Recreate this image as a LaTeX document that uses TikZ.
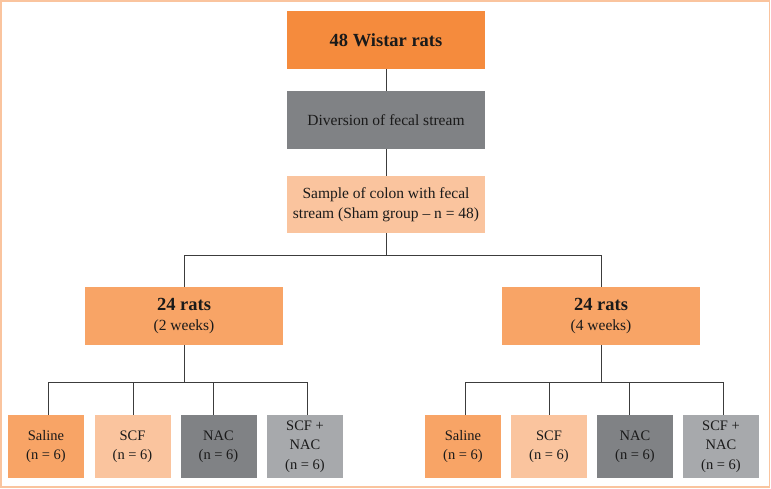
\documentclass[tikz,border=0pt]{standalone}
\usepackage{fontspec}
\setmainfont{Liberation Serif}
\definecolor{orangeA}{HTML}{F58B3D}
\definecolor{orangeB}{HTML}{F8A466}
\definecolor{peach}{HTML}{FAC49E}
\definecolor{greyA}{HTML}{808285}
\definecolor{greyB}{HTML}{A7A9AC}
\definecolor{linec}{HTML}{3C3C3C}
\definecolor{txt}{HTML}{1A1A1A}
\begin{document}
\begin{tikzpicture}[x=1pt,y=-1pt,
  box/.style={draw=none,inner sep=0pt,align=center,text=txt,font=\fontsize{15.5}{20}\selectfont},
  bigbox/.style={box,minimum width=198pt,minimum height=58pt},
  smallbox/.style={box,minimum width=76pt,minimum height=63pt,font=\fontsize{14.5}{19.5}\selectfont},
  conn/.style={draw=linec,line width=0.9pt}]
\useasboundingbox (0,0) rectangle (771,489);
\draw[peach,line width=1.6pt] (0.8,0.8) rectangle (769.6,486.8);
% main column
\node[bigbox,fill=orangeA,font=\bfseries\fontsize{18.5}{20}\selectfont] (top) at (386,40) {48 Wistar rats};
\node[bigbox,fill=greyA] (div) at (386,120) {Diversion of fecal stream};
\node[bigbox,fill=peach,minimum height=57pt] (sample) at (386,204.5) {Sample of colon with fecal\\stream (Sham group -- n = 48)};
\node[bigbox,fill=orangeB] (w2) at (184,316) {{\bfseries\fontsize{18.5}{20}\selectfont 24 rats}\\(2 weeks)};
\node[bigbox,fill=orangeB] (w4) at (601,316) {{\bfseries\fontsize{18.5}{20}\selectfont 24 rats}\\(4 weeks)};
% bottom left
\node[smallbox,fill=orangeB] (l1) at (46,446.5) {Saline\\(n = 6)};
\node[smallbox,fill=peach] (l2) at (132.5,446.5) {SCF\\(n = 6)};
\node[smallbox,fill=greyA] (l3) at (218.5,446.5) {NAC\\(n = 6)};
\node[smallbox,fill=greyB] (l4) at (305,446.5) {SCF +\\NAC\\(n = 6)};
% bottom right
\node[smallbox,fill=orangeB] (r1) at (463,446.5) {Saline\\(n = 6)};
\node[smallbox,fill=peach] (r2) at (549,446.5) {SCF\\(n = 6)};
\node[smallbox,fill=greyA] (r3) at (635,446.5) {NAC\\(n = 6)};
\node[smallbox,fill=greyB] (r4) at (721,446.5) {SCF +\\NAC\\(n = 6)};
% coordinates
\coordinate (s1) at (386,255);
\coordinate (s2) at (184,255);
\coordinate (s3) at (601,255);
\coordinate (bl) at (184,382);
\coordinate (br) at (601,382);
\coordinate (a1) at (48,382);  \coordinate (a1b) at (48,415);
\coordinate (a2) at (133,382); \coordinate (a2b) at (133,415);
\coordinate (a3) at (213,382); \coordinate (a3b) at (213,415);
\coordinate (a4) at (307,382); \coordinate (a4b) at (307,415);
\coordinate (b1) at (465,382); \coordinate (b1b) at (465,415);
\coordinate (b2) at (549,382); \coordinate (b2b) at (549,415);
\coordinate (b3) at (629,382); \coordinate (b3b) at (629,415);
\coordinate (b4) at (723,382); \coordinate (b4b) at (723,415);
% connectors
\draw[conn] (top) -- (div);
\draw[conn] (div) -- (sample);
\draw[conn] (sample) -- (s1);
\draw[conn] (w2.north) -- (s2) -- (s3) -- (w4.north);
\draw[conn] (w2) -- (bl);
\draw[conn] (w4) -- (br);
\draw[conn] (a1b) -- (a1) -- (a4) -- (a4b);
\draw[conn] (a2) -- (a2b);
\draw[conn] (a3) -- (a3b);
\draw[conn] (b1b) -- (b1) -- (b4) -- (b4b);
\draw[conn] (b2) -- (b2b);
\draw[conn] (b3) -- (b3b);
\end{tikzpicture}
\end{document}
